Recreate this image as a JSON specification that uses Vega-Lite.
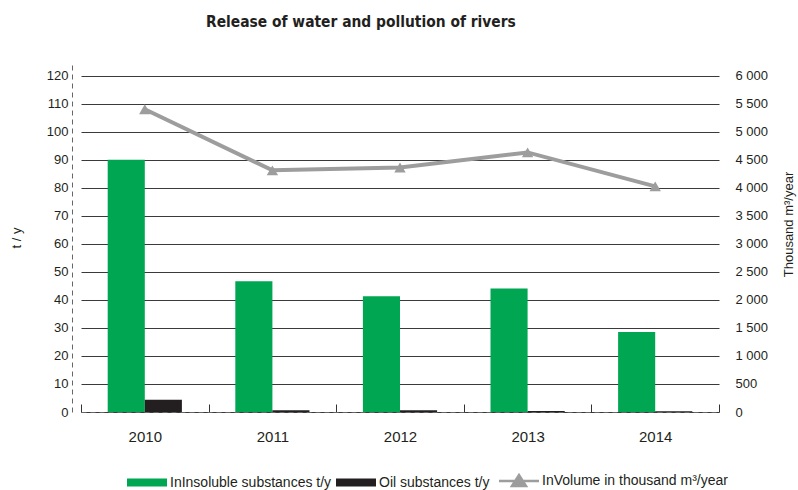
{
  "$schema": "https://vega.github.io/schema/vega-lite/v6.json",
  "width": 638,
  "height": 349,
  "autosize": {"type": "none"},
  "padding": {"left": 81, "top": 63, "right": 79, "bottom": 78},
  "background": "white",
  "title": {
    "text": "Release of water and pollution of rivers",
    "anchor": "start",
    "frame": "group",
    "dx": 125,
    "offset": 33,
    "font": "DejaVu Sans Condensed",
    "fontSize": 15.4,
    "fontWeight": "bold",
    "color": "#231f20"
  },
  "config": {
    "view": {"stroke": null},
    "axis": {"labelFont": "Liberation Sans", "titleFont": "Liberation Sans", "labelColor": "#231f20", "titleColor": "#231f20", "titleFontWeight": "normal"},
    "legend": {"labelFont": "Liberation Sans", "labelColor": "#231f20"}
  },
  "datasets": {
    "pollution": [
      {"year": "2010", "series": "InInsoluble substances t/y", "value": 90},
      {"year": "2010", "series": "Oil substances t/y", "value": 4.4},
      {"year": "2011", "series": "InInsoluble substances t/y", "value": 46.6},
      {"year": "2011", "series": "Oil substances t/y", "value": 0.6},
      {"year": "2012", "series": "InInsoluble substances t/y", "value": 41.3},
      {"year": "2012", "series": "Oil substances t/y", "value": 0.6},
      {"year": "2013", "series": "InInsoluble substances t/y", "value": 44.1},
      {"year": "2013", "series": "Oil substances t/y", "value": 0.4},
      {"year": "2014", "series": "InInsoluble substances t/y", "value": 28.5},
      {"year": "2014", "series": "Oil substances t/y", "value": 0.3}
    ],
    "volume": [
      {"year": "2010", "series": "InVolume in thousand m³/year", "volume": 5400},
      {"year": "2011", "series": "InVolume in thousand m³/year", "volume": 4310},
      {"year": "2012", "series": "InVolume in thousand m³/year", "volume": 4360},
      {"year": "2013", "series": "InVolume in thousand m³/year", "volume": 4630},
      {"year": "2014", "series": "InVolume in thousand m³/year", "volume": 4025}
    ]
  },
  "layer": [
    {
      "data": {"name": "pollution"},
      "mark": {"type": "bar"},
      "encoding": {
        "x": {
          "field": "year",
          "type": "nominal",
          "scale": {"paddingInner": 0, "paddingOuter": 0},
          "axis": {
            "title": null,
            "labelAngle": 0,
            "labelFontSize": 15,
            "labelPadding": 25,
            "domainDash": [5, 4],
            "domainColor": "#666666",
            "ticks": true,
            "tickBand": "extent",
            "tickSize": -8,
            "tickColor": "#333333"
          }
        },
        "xOffset": {
          "field": "series",
          "sort": ["InInsoluble substances t/y", "Oil substances t/y"],
          "scale": {"paddingInner": 0, "paddingOuter": 0.72}
        },
        "y": {
          "field": "value",
          "type": "quantitative",
          "scale": {"domain": [0, 124.5], "nice": false},
          "axis": {
            "orient": "left",
            "values": [0, 10, 20, 30, 40, 50, 60, 70, 80, 90, 100, 110, 120],
            "title": "t / y",
            "titleFontSize": 13,
            "titlePadding": 23,
            "labelFontSize": 13,
            "labelPadding": 4,
            "ticks": false,
            "offset": 9,
            "domainDash": [5, 4],
            "domainColor": "#666666",
            "grid": true,
            "gridColor": "#3a3a3a",
            "gridWidth": 1
          }
        },
        "color": {
          "field": "series",
          "type": "nominal",
          "scale": {
            "domain": ["InInsoluble substances t/y", "Oil substances t/y", "InVolume in thousand m³/year"],
            "range": ["#00a651", "#231f20", "#9d9d9d"]
          },
          "legend": {
            "title": null,
            "orient": "none",
            "legendX": 59,
            "legendY": 411,
            "direction": "horizontal",
            "labelFontSize": 14,
            "labelOffset": 16,
            "labelLimit": 300,
            "columnPadding": 4,
            "symbolSize": 1600,
            "encode": {
              "symbols": {
                "update": {
                  "shape": {"signal": "datum.value === 'InVolume in thousand m³/year' ? 'M-1,0H1M-0.35,0.25L0,-0.3L0.35,0.25Z' : 'M-1,-0.2H1V0.2H-1Z'"},
                  "strokeWidth": {"signal": "datum.value === 'InVolume in thousand m³/year' ? 2.5 : 0"},
                  "fill": {"scale": "color", "field": "value"},
                  "stroke": {"scale": "color", "field": "value"},
                  "opacity": {"value": 1}
                }
              }
            }
          }
        }
      }
    },
    {
      "data": {"name": "volume"},
      "mark": {"type": "line", "strokeWidth": 4, "point": {"shape": "triangle-up", "size": 130, "filled": true, "opacity": 1}},
      "encoding": {
        "x": {"field": "year", "type": "nominal"},
        "y": {
          "field": "volume",
          "type": "quantitative",
          "scale": {"domain": [0, 6225], "nice": false},
          "axis": {
            "orient": "right",
            "values": [0, 500, 1000, 1500, 2000, 2500, 3000, 3500, 4000, 4500, 5000, 5500, 6000],
            "labelExpr": "replace(format(datum.value, ','), ',', ' ')",
            "title": "Thousand m³/year",
            "titleAngle": 270,
            "titleFontSize": 13,
            "titlePadding": 28,
            "titleY": 161,
            "labelFontSize": 13,
            "labelPadding": 16,
            "ticks": false,
            "domain": false,
            "grid": false
          }
        },
        "color": {"field": "series", "type": "nominal"}
      }
    }
  ],
  "resolve": {"scale": {"y": "independent"}}
}
